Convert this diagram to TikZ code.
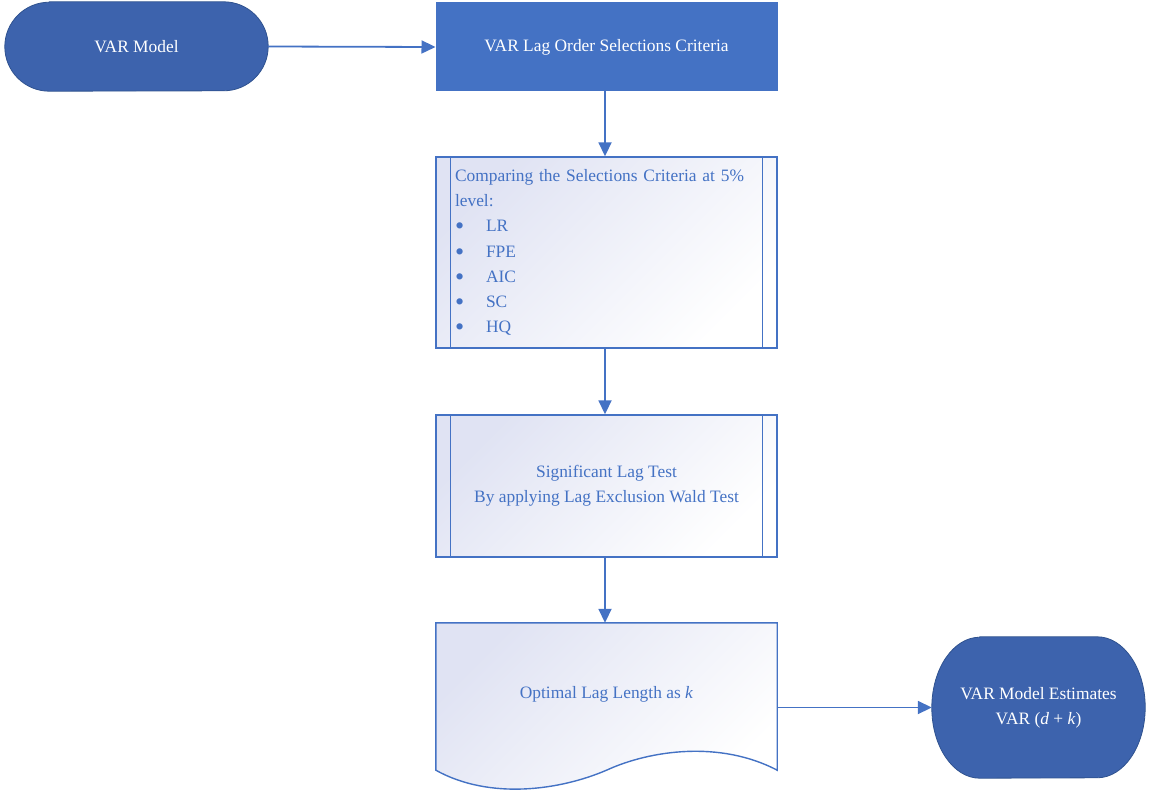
\documentclass[tikz,border=0pt]{standalone}
\usepackage{fontspec}
\setmainfont{Liberation Serif}
\usetikzlibrary{arrows.meta,backgrounds,calc}
\definecolor{accent}{RGB}{68,114,196}
\definecolor{termfill}{RGB}{61,99,173}
\definecolor{termline}{RGB}{47,82,143}
\definecolor{lavender}{RGB}{224,227,243}
\newcommand{\critem}[1]{\makebox[31pt][l]{\raisebox{-3pt}{\scalebox{1.5}{\textbullet}}}#1}
\begin{document}
\begin{tikzpicture}[x=1pt,y=-1pt,
  font=\fontsize{17.4}{25.3}\selectfont,
  termtext/.style={text=white, align=center, inner sep=0pt},
  solidbox/.style={draw=accent, fill=accent, text=white, line width=1pt,
    minimum width=341pt, inner sep=0pt},
  lightbox/.style={draw=accent, line width=1.4pt, text=accent,
    top color=lavender, bottom color=white, shading angle=45,
    minimum width=341pt, inner sep=0pt},
  conn/.style={draw=accent, line width=1.8pt, -{Triangle[length=14pt,width=13pt]}},
  sideline/.style={draw=accent, line width=1.4pt}]
\useasboundingbox (0,0) rectangle (1149,792);

% terminals (outlines drawn on the background layer below)
\node[termtext, minimum width=263pt, minimum height=89pt] (start) at (136.5,46.5) {VAR Model};
\node[termtext, minimum width=213pt, minimum height=141pt] (finish) at (1038.5,707.5)
  {VAR Model Estimates\\VAR (\textit{d} + \textit{k})};

% process steps
\node[solidbox, minimum height=88pt] (crit) at (606.5,47) {VAR Lag Order Selections Criteria};
\node[lightbox, minimum height=191pt, text width=303pt, inner xsep=19pt, align=left] (cmp) at (606.5,252.5)
  {Comparing the Selections Criteria at 5\%\\
   level:\\
   \critem{LR}\\
   \critem{FPE}\\
   \critem{AIC}\\
   \critem{SC}\\
   \critem{HQ}};
\node[lightbox, minimum height=142pt, align=center] (wald) at (606.5,486)
  {Significant Lag Test\\By applying Lag Exclusion Wald Test};
\node[text=accent, minimum width=341pt, minimum height=147pt, inner sep=0pt] (doc) at (606.5,696.5)
  {\raisebox{8.5pt}{Optimal Lag Length as \textit{k}}};

% inner side bars of the predefined-process boxes
\foreach \b in {cmp,wald}{
  \draw[sideline] ([xshift=15pt]\b.north west) -- ([xshift=15pt]\b.south west);
  \draw[sideline] ([xshift=-15pt]\b.north east) -- ([xshift=-15pt]\b.south east);
}

\begin{scope}[on background layer]
  % rounded terminator shapes
  \path[draw=termline, fill=termfill, line width=0.8pt]
    ([xshift=44.5pt]start.north west) -- ([xshift=-44.5pt]start.north east)
    arc[start angle=90, end angle=-90, x radius=44.5pt, y radius=44.5pt]
    -- ([xshift=44.5pt]start.south west)
    arc[start angle=270, end angle=90, x radius=44.5pt, y radius=44.5pt] -- cycle;
  \path[draw=termline, fill=termfill, line width=0.8pt]
    ([xshift=48pt]finish.north west) -- ([xshift=-48pt]finish.north east)
    arc[start angle=90, end angle=-90, x radius=48pt, y radius=70.5pt]
    -- ([xshift=48pt]finish.south west)
    arc[start angle=270, end angle=90, x radius=48pt, y radius=70.5pt] -- cycle;
  % document shape with wavy lower edge
  \path[draw=accent, line width=1.4pt, top color=lavender, bottom color=white, shading angle=45]
    (doc.north west) -- (doc.north east) -- (doc.south east)
    .. controls ($(doc.south east)+(-57,-30)$) and ($(doc.south)+(43.5,-20)$) .. (doc.south)
    .. controls ($(doc.south)+(-46.5,20)$) and ($(doc.south west)+(54,30)$) .. (doc.south west)
    -- cycle;
\end{scope}

% connectors
\draw[conn] (start.east) -- (crit.west);
\draw[conn] ([xshift=-1.5pt]crit.south) -- ([xshift=-1.5pt]cmp.north);
\draw[conn] ([xshift=-1.5pt]cmp.south) -- ([xshift=-1.5pt]wald.north);
\draw[conn] ([xshift=-1.5pt]wald.south) -- ([xshift=-1.5pt]doc.north);
\draw[conn] (finish.west -| doc.east) -- (finish.west);
\end{tikzpicture}
\end{document}
